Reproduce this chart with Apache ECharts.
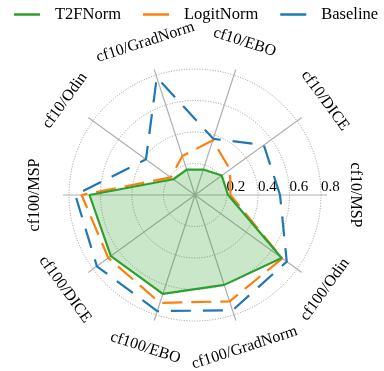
<!DOCTYPE html>
<html>
<head>
<meta charset="utf-8">
<script src="https://cdn.jsdelivr.net/npm/echarts@6/dist/echarts.min.js"></script>
<style>
  html, body { margin: 0; padding: 0; background: #fff; }
  #chart { width: 384px; height: 371px; }
</style>
</head>
<body>
<div id="chart"></div>
<script>
// OOD detection scores per dataset/method pair
const categories = ['cf10/MSP', 'cf10/DICE', 'cf10/EBO', 'cf10/GradNorm', 'cf10/Odin',
                    'cf100/MSP', 'cf100/DICE', 'cf100/EBO', 'cf100/GradNorm', 'cf100/Odin'];
const t2fnorm   = [0.21, 0.21, 0.17, 0.17, 0.17, 0.67, 0.66, 0.66, 0.60, 0.68];
const logitnorm = [0.225, 0.275, 0.365, 0.26, 0.19, 0.72, 0.68, 0.72, 0.71, 0.685];
const baseline  = [0.54, 0.54, 0.375, 0.785, 0.385, 0.76, 0.77, 0.775, 0.77, 0.72];
const radialTicks = [0.2, 0.4, 0.6, 0.8];

const FONT = 'Liberation Serif, Times New Roman, serif';
const step = 360 / categories.length;
const CX = 195, CY = 195;

// closed loop of [radius, angle] pairs
function loop(vals) {
  const pts = vals.map((v, i) => [v, i * step]);
  pts.push([vals[0], 360]);
  return pts;
}

const chart = echarts.init(document.getElementById('chart'), null, { renderer: 'canvas' });

const option = {
  animation: false,
  backgroundColor: '#fff',
  legend: {
    left: 14, top: 6, width: 384, padding: 0,
    icon: 'rect', itemWidth: 26, itemHeight: 2.5, itemGap: 22,
    textStyle: { fontFamily: FONT, fontSize: 16.5, color: '#000', padding: [0, 0, 0, 10] },
    data: ['T2FNorm', 'LogitNorm', 'Baseline']
  },
  polar: [
    { center: [CX, CY], radius: 132 },   // spokes
    { center: [CX, CY], radius: 126 }    // rings + data
  ],
  angleAxis: [
    {
      polarIndex: 0, type: 'value', min: 0, max: 360, interval: step,
      startAngle: 0, clockwise: false,
      axisLine: { show: false }, axisTick: { show: false }, axisLabel: { show: false },
      splitLine: { show: true, lineStyle: { color: '#b0b0b0', width: 1.2 } }
    },
    {
      polarIndex: 1, type: 'value', min: 0, max: 360, interval: step,
      startAngle: 0, clockwise: false,
      axisLine: { show: false }, axisTick: { show: false }, axisLabel: { show: false },
      splitLine: { show: false }
    }
  ],
  radiusAxis: [
    {
      polarIndex: 0, min: 0, max: 1,
      axisLine: { show: false }, axisTick: { show: false }, axisLabel: { show: false },
      splitLine: { show: false }
    },
    {
      polarIndex: 1, type: 'value', min: 0, max: 0.8, interval: 0.2,
      axisLine: { show: false }, axisTick: { show: false },
      axisLabel: {
        show: true, margin: 0, align: 'left', verticalAlign: 'bottom',
        fontFamily: FONT, fontSize: 15, color: '#000',
        formatter: v => radialTicks.some(t => Math.abs(t - v) < 1e-6) ? String(+v.toFixed(1)) : ''
      },
      splitLine: { show: true, lineStyle: { color: '#999', width: 1, type: [1, 1.6] } }
    }
  ],
  series: [
    {
      name: 'Baseline', type: 'line', coordinateSystem: 'polar', polarIndex: 1,
      data: loop(baseline), symbol: 'none', z: 3,
      lineStyle: { color: '#1f77b4', width: 2.2, type: [20, 12] },
      itemStyle: { color: '#1f77b4' }
    },
    {
      name: 'LogitNorm', type: 'line', coordinateSystem: 'polar', polarIndex: 1,
      data: loop(logitnorm), symbol: 'none', z: 4,
      lineStyle: { color: '#ff7f0e', width: 2.2, type: [20, 9] },
      itemStyle: { color: '#ff7f0e' }
    },
    {
      name: 'T2FNorm', type: 'line', coordinateSystem: 'polar', polarIndex: 1,
      data: loop(t2fnorm), symbol: 'none', z: 5,
      lineStyle: { color: '#2ca02c', width: 2.2 },
      itemStyle: { color: '#2ca02c' },
      areaStyle: { color: 'rgba(44,160,44,0.25)', opacity: 1 }
    }
  ]
};
chart.setOption(option);

// category names around the rim, turned to follow the circle
const labelR = 1.02;
const graphics = categories.map((name, i) => {
  const ang = i * step;
  const p = chart.convertToPixel({ polarIndex: 1 }, [labelR, ang]);
  let rot = ang - 90;
  if (rot > 90) rot -= 180;
  if (rot < -90) rot += 180;
  return {
    type: 'text', x: p[0], y: p[1], rotation: rot * Math.PI / 180, z: 10,
    style: { text: name, font: '16px ' + FONT, fill: '#000', align: 'center', verticalAlign: 'middle' }
  };
});
chart.setOption({ graphic: graphics });
</script>
</body>
</html>
